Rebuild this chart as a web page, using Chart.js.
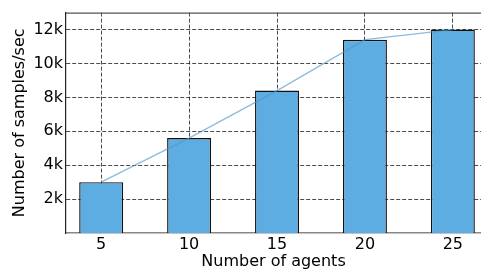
<!DOCTYPE html>
<html>
<head>
<meta charset="utf-8">
<script src="https://cdn.jsdelivr.net/npm/chart.js@4"></script>
<style>
  body { margin: 0; background: #fff; }
  #wrap { width: 481px; height: 269px; }
</style>
</head>
<body>
<div id="wrap"><canvas id="chart" width="481" height="269"></canvas></div>
<script>
// data
const agents = [5, 10, 15, 20, 25];
const samplesPerSec = [3000, 5600, 8400, 11400, 12000];
const xTicks = [5, 10, 15, 20, 25];
const yTicks = [2000, 4000, 6000, 8000, 10000, 12000];

const colors = {
  bar: "#5dade2",
  barEdge: "#111111",
  line: "rgba(80,150,200,0.65)",
  grid: "rgba(30,30,30,0.8)",
  text: "#000000",
};

const points = agents.map((a, i) => ({ x: a, y: samplesPerSec[i] }));

// top spine
const frame = {
  id: "frame",
  afterDraw(chart) {
    const { ctx, chartArea: a } = chart;
    ctx.save();
    ctx.strokeStyle = "#555";
    ctx.lineWidth = 1.2;
    ctx.beginPath();
    ctx.moveTo(a.left, a.top + 0.5);
    ctx.lineTo(a.right, a.top + 0.5);
    ctx.stroke();
    ctx.restore();
  },
};

const font = { family: "DejaVu Sans", size: 16 };

new Chart(document.getElementById("chart"), {
  data: {
    datasets: [
      {
        type: "line",
        data: points,
        borderColor: colors.line,
        borderWidth: 1.3,
        pointRadius: 0,
        fill: false,
        tension: 0,
        order: 0,
      },
      {
        type: "bar",
        data: points,
        backgroundColor: colors.bar,
        borderColor: colors.barEdge,
        borderWidth: 1.4,
        barPercentage: 0.5,
        categoryPercentage: 1,
        order: 1,
      },
    ],
  },
  options: {
    responsive: false,
    animation: false,
    layout: { padding: { top: 11, right: 0, left: 0, bottom: 0 } },
    plugins: { legend: { display: false }, tooltip: { enabled: false } },
    scales: {
      x: {
        type: "linear",
        min: 3,
        max: 26.6,
        offset: false,
        z: 1,
        afterBuildTicks: (axis) => { axis.ticks = xTicks.map((v) => ({ value: v })); },
        afterFit: (axis) => { axis.height = 36; },
        ticks: { font, color: colors.text, padding: 2, maxRotation: 0 },
        grid: { color: colors.grid, offset: false, drawTicks: false, tickLength: 0 },
        border: { display: true, color: "#888", width: 1.5, dash: [4, 2] },
        title: { display: true, text: "Number of agents", font, color: colors.text, padding: { top: 0, bottom: -2 } },
      },
      y: {
        min: 0,
        max: 13000,
        z: 1,
        afterBuildTicks: (axis) => { axis.ticks = yTicks.map((v) => ({ value: v })); },
        afterFit: (axis) => { axis.width = 66; },
        ticks: { font, color: colors.text, padding: 3, callback: (v) => v / 1000 + "k" },
        grid: { color: colors.grid, drawTicks: false, tickLength: 0 },
        border: { display: true, color: "#222", width: 1.2, dash: [4, 2] },
        title: { display: true, text: "Number of samples/sec", font, color: colors.text, padding: { top: 10, bottom: 0 } },
      },
    },
  },
  plugins: [frame],
});
</script>
</body>
</html>
